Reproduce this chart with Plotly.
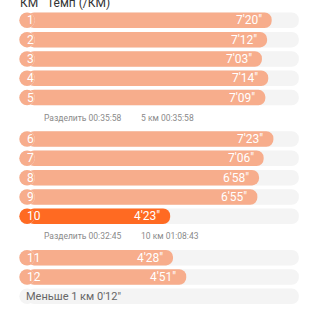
import plotly.graph_objects as go

# ---- data ----
km_labels = ["1", "2", "3", "4", "5", "6", "7", "8", "9", "10", "11", "12"]
pace_labels = ["7'20\"", "7'12\"", "7'03\"", "7'14\"", "7'09\"", "7'23\"",
               "7'06\"", "6'58\"", "6'55\"", "4'23\"", "4'28\"", "4'51\""]
pace_seconds = [440, 432, 423, 434, 429, 443, 426, 418, 415, 263, 268, 291]
fastest_km = "10"
split_after = ["5", "10"]
split_texts = ["Разделить 00:35:58", "Разделить 00:32:45"]
split_totals = ["5 км 00:35:58", "10 км 01:08:43"]
remainder_label = "Меньше 1 км 0'12\""
header_km = "КМ"
header_pace = "Темп (/КМ)"

# ---- styling ----
SALMON = "#F7AD8C"
ORANGE = "#FF6A22"
TRACK = "#F4F4F4"
PX_PER_S = 0.5736
BAR_PX = 15.5
PITCH_PX = 19.33
SPLIT_GAP = 1.14

track_max = 1.1 * max(pace_seconds)
cap = (BAR_PX / 2) / PX_PER_S  # radius of rounded ends in data units

# row positions
ys, split_ys = [], []
pos = 0.0
for k in km_labels:
    ys.append(pos)
    pos += 1
    if k in split_after:
        split_ys.append(pos - 1 + 0.5 + SPLIT_GAP / 2 - 0.03)
        pos += SPLIT_GAP
rem_y = pos

all_rows = ys + [rem_y]
colors = [ORANGE if k == fastest_km else SALMON for k in km_labels]
bw = BAR_PX / PITCH_PX

fig = go.Figure()
# tracks
fig.add_bar(y=all_rows, x=[track_max - cap] * len(all_rows), base=[cap] * len(all_rows),
            orientation="h", width=bw, marker=dict(color=TRACK, cornerradius="50%", line_width=0),
            hoverinfo="skip")
fig.add_scatter(y=all_rows, x=[cap] * len(all_rows), mode="markers",
                marker=dict(color=TRACK, size=BAR_PX, line_width=0), hoverinfo="skip", cliponaxis=False)
# bars
fig.add_bar(y=ys, x=[v - cap for v in pace_seconds], base=[cap] * len(ys),
            orientation="h", width=bw, marker=dict(color=colors, cornerradius="50%", line_width=0),
            hoverinfo="skip")
fig.add_scatter(y=ys, x=[cap] * len(ys), mode="markers",
                marker=dict(color=colors, size=BAR_PX, line_width=0), hoverinfo="skip", cliponaxis=False)

ann = []
FONT = "Roboto"
for k, y, v, p in zip(km_labels, ys, pace_seconds, pace_labels):
    ann.append(dict(x=0, y=y, text=k, xanchor="left", yanchor="middle", xshift=5.5, showarrow=False,
                    font=dict(family=FONT, size=12, color="white")))
    ann.append(dict(x=v, y=y, text=p, xanchor="right", yanchor="middle", xshift=-8, showarrow=False,
                    font=dict(family=FONT, size=12, color="white")))
for sy, st, tt in zip(split_ys, split_texts, split_totals):
    ann.append(dict(x=0, y=sy, text=st, xanchor="left", yanchor="middle", xshift=23, showarrow=False,
                    font=dict(family=FONT, size=8.5, color="#8A8A8A")))
    ann.append(dict(x=0, y=sy, text=tt, xanchor="left", yanchor="middle", xshift=120, showarrow=False,
                    font=dict(family=FONT, size=8.5, color="#8A8A8A")))
ann.append(dict(x=0, y=rem_y, text=remainder_label, xanchor="left", yanchor="middle", xshift=5, showarrow=False,
                font=dict(family=FONT, size=11, color="#666666")))
ann.append(dict(x=0, y=-0.9, text=header_km, xanchor="left", yanchor="middle", xshift=-1, showarrow=False,
                font=dict(family=FONT, size=12, color="#333333")))
ann.append(dict(x=0, y=-0.9, text=header_pace, xanchor="left", yanchor="middle", xshift=26, showarrow=False,
                font=dict(family=FONT, size=12, color="#333333")))

x0 = -19.3 / PX_PER_S
x1 = x0 + 317 / PX_PER_S
y0 = -20.3 / PITCH_PX
y1 = y0 + 317 / PITCH_PX

fig.update_layout(
    width=317, height=317, margin=dict(l=0, r=0, t=0, b=0),
    paper_bgcolor="white", plot_bgcolor="white", showlegend=False,
    barmode="overlay", annotations=ann,
    xaxis=dict(range=[x0, x1], visible=False, fixedrange=True),
    yaxis=dict(range=[y1, y0], visible=False, fixedrange=True),
)
fig.write_html("out.html")
